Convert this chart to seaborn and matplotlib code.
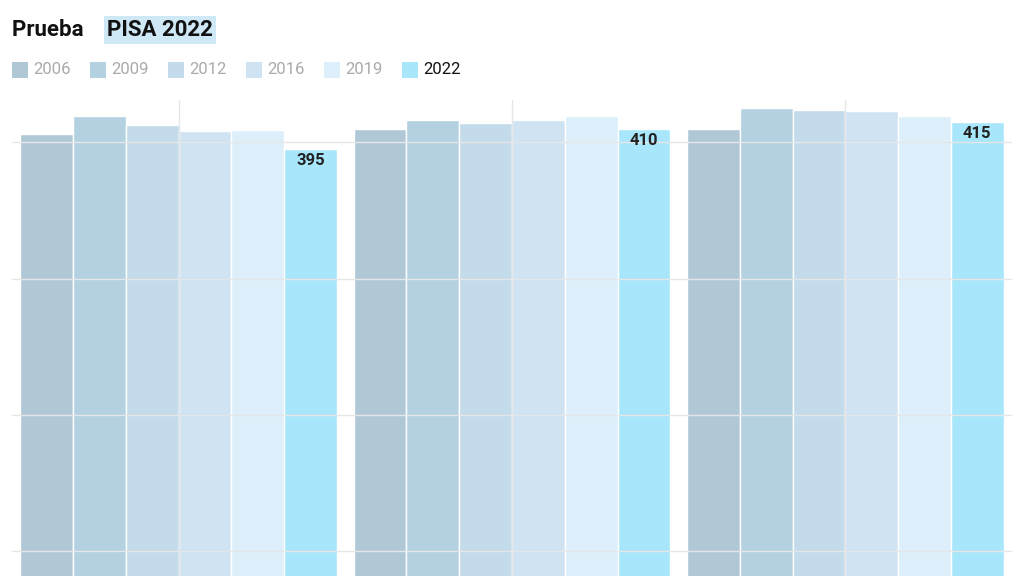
import matplotlib
matplotlib.use("Agg")
import matplotlib.pyplot as plt
import seaborn as sns
import pandas as pd
from matplotlib.patches import Rectangle

groups = ["A", "B", "C"]
years = ["2006", "2009", "2012", "2016", "2019", "2022"]
vals_a = [406, 419, 413, 408, 409, 395]
vals_b = [410, 416, 414, 416, 419, 410]
vals_c = [410, 425, 424, 423, 419, 415]
colors = ["#b0c8d6", "#b4d1e2", "#c3dbeb", "#cfe3f3", "#dceffb", "#a8e7fb"]

rows = []
for g, vs in zip(groups, [vals_a, vals_b, vals_c]):
    for y, v in zip(years, vs):
        rows.append({"g": g, "year": y, "v": v})
df = pd.DataFrame(rows)

sns.set_theme(style="white")
plt.rcParams['font.family'] = ['Roboto', 'DejaVu Sans']
fig = plt.figure(figsize=(10.24, 5.76), dpi=100)
ax = fig.add_axes([12/1024, 0, 1000/1024, 476/576])
sns.barplot(data=df, x="g", y="v", hue="year", palette=colors, width=0.95,
            gap=0, ax=ax, legend=False, saturation=1)
ax.set_ylim(82, 431)
ax.set_xlim(-0.5, 2.5)
ax.set_yticks([100, 200, 300, 400])
ax.grid(True, color="#e6e6e6", lw=1)
ax.set_axisbelow(False)
for p in ax.patches:
    p.set_zorder(1)
for l in ax.get_xgridlines() + ax.get_ygridlines():
    l.set_zorder(2)
ax.tick_params(left=False, bottom=False, labelleft=False, labelbottom=False)
for s in ax.spines.values():
    s.set_visible(False)
ax.set_xlabel(""); ax.set_ylabel("")

cont = ax.containers[-1]
for bar, v in zip(cont, [vals_a[-1], vals_b[-1], vals_c[-1]]):
    ax.text(bar.get_x() + bar.get_width()/2, v - 3, str(v), ha="center", va="top",
            fontsize=12, fontweight="bold", color="#222222", zorder=5)

fig.text(12/1024, 1-30/576, "Prueba ", fontsize=16, fontweight="bold", color="#111111", va="center")
fig.text(107/1024, 1-30/576, "PISA 2022", fontsize=16, fontweight="bold", color="#111111", va="center",
         bbox=dict(facecolor="#cfe8f5", edgecolor="none", pad=2))

xs = [12, 90, 168, 246, 324, 402]
for x, y, c in zip(xs, years, colors):
    fig.patches.append(Rectangle((x/1024, 1-78/576), 16/1024, 16/576, transform=fig.transFigure,
                                 facecolor=c, edgecolor="none"))
    fig.text((x+21)/1024, 1-70/576, y, fontsize=12, va="center",
             color="#111111" if y == "2022" else "#aaaaaa")
fig.savefig("out.png", dpi=100)
